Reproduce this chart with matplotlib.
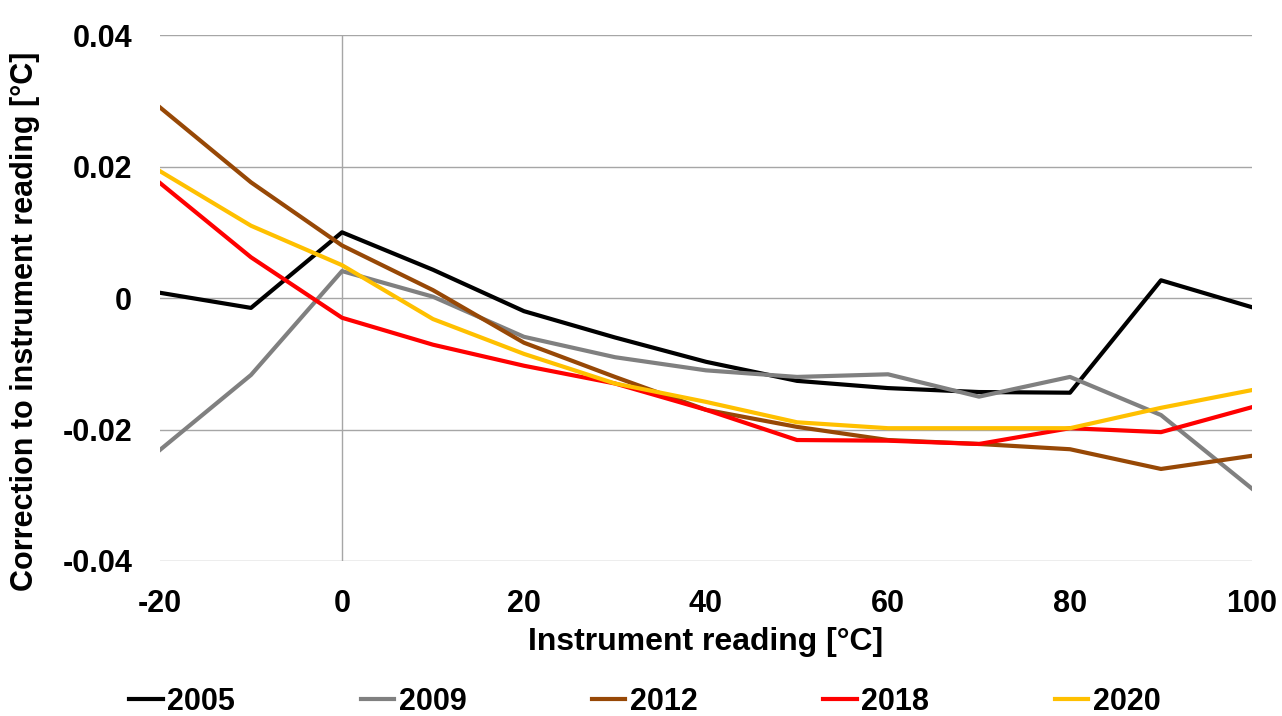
import matplotlib.pyplot as plt

plt.rcParams['font.family'] = ['Liberation Sans', 'DejaVu Sans']
plt.rcParams['font.weight'] = 'bold'
plt.rcParams['axes.unicode_minus'] = False

x = [-20, -10, 0, 10, 20, 30, 40, 50, 60, 70, 80, 90, 100]

y2005 = [0.0008, -0.0015, 0.0100, 0.0043, -0.0020, -0.0060, -0.0097, -0.0126, -0.0137, -0.0143, -0.0144, 0.0027, -0.0014]
y2009 = [-0.0231, -0.0117, 0.0041, 0.0002, -0.0059, -0.0090, -0.0110, -0.0120, -0.0116, -0.0150, -0.0120, -0.0178, -0.0290]
y2012 = [0.0290, 0.0176, 0.0080, 0.0012, -0.0068, -0.0120, -0.0170, -0.0196, -0.0216, -0.0222, -0.0230, -0.0260, -0.0240]
y2018 = [0.0175, 0.0062, -0.0030, -0.0071, -0.0103, -0.0130, -0.0170, -0.0216, -0.0217, -0.0222, -0.0198, -0.0204, -0.0166]
y2020 = [0.0193, 0.0110, 0.0050, -0.0032, -0.0085, -0.0130, -0.0158, -0.0189, -0.0198, -0.0198, -0.0198, -0.0167, -0.0140]

series = [('2005', y2005, '#000000'),
          ('2009', y2009, '#808080'),
          ('2012', y2012, '#974806'),
          ('2018', y2018, '#FF0000'),
          ('2020', y2020, '#FFC000')]

yticks = [-0.04, -0.02, 0, 0.02, 0.04]
ytick_labels = ['-0.04', '-0.02', '0', '0.02', '0.04']

fig = plt.figure(figsize=(12.82, 7.16), dpi=100)
ax = fig.add_axes([0.1248, 0.2165, 0.8518, 0.7345])

for name, ys, c in series:
    ax.plot(x, ys, color=c, lw=3, label=name, zorder=3)

ax.set_xlim(-20, 100)
ax.set_ylim(-0.04, 0.04)
ax.set_yticks(yticks)
ax.set_yticklabels(ytick_labels)
ax.set_xticks(range(-20, 101, 20))
for s in ax.spines.values():
    s.set_visible(False)
ax.tick_params(length=0, labelsize=22, pad=20)
ax.grid(True, axis='y', color='#a6a6a6', lw=1)
ax.axvline(0, color='#a6a6a6', lw=1)

ax.set_xlabel('Instrument reading [°C]', fontsize=23, fontweight='bold')
ax.set_ylabel('Correction to instrument reading [°C]', fontsize=22, fontweight='bold')
ax.xaxis.set_label_coords(0.5, -0.125)
ax.yaxis.set_label_coords(-0.124, 0.455)
ax.yaxis.label.set_va('center')

fig.legend(loc='center', ncol=5, frameon=False, fontsize=22,
           handlelength=1.1, handletextpad=0.15, columnspacing=4.1,
           bbox_to_anchor=(0.503, 0.02))

fig.savefig('out.png', dpi=100)
